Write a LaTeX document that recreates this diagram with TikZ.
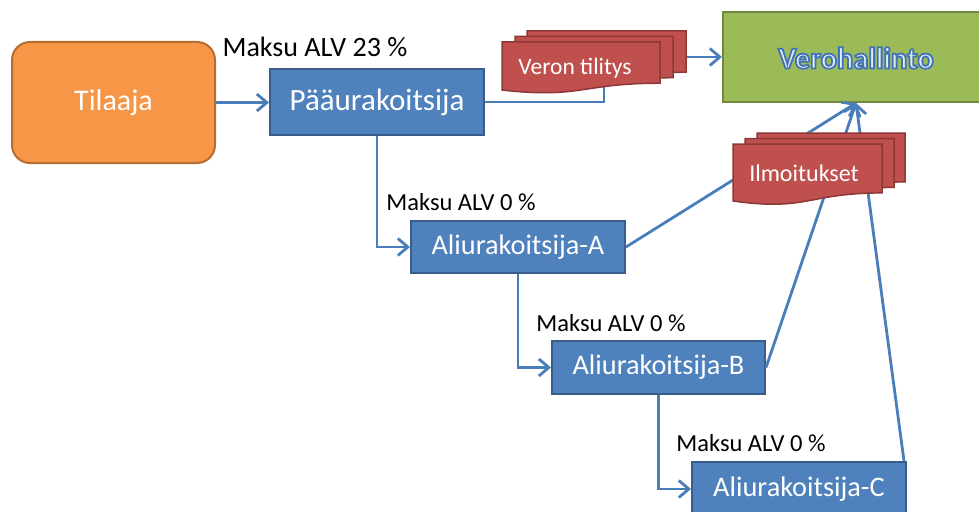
\documentclass[tikz,border=0pt]{standalone}
\usepackage{fontspec}
\setmainfont{Carlito}
\usetikzlibrary{arrows.meta,calc}
\definecolor{boxblue}{HTML}{4F81BD}
\definecolor{boxblueline}{HTML}{385D8A}
\definecolor{boxorange}{HTML}{F79646}
\definecolor{boxorangeline}{HTML}{B66D31}
\definecolor{boxgreen}{HTML}{9BBB59}
\definecolor{boxgreenline}{HTML}{71893F}
\definecolor{docred}{HTML}{C0504D}
\definecolor{docredline}{HTML}{8C3836}
\definecolor{connblue}{HTML}{4A7EBB}
\definecolor{verotext}{HTML}{E4ECF6}
\newcommand\docpg[4]{%
  \draw[docpage] (#1,#2) -- ({#1+#3},#2) -- ({#1+#3},{#2+0.802*#4})
    .. controls ({#1+0.5*#3},{#2+0.802*#4}) and ({#1+0.5*#3},{#2+1.107*#4}) .. (#1,{#2+0.934*#4}) -- cycle;}
\tikzset{
  bluebox/.style={draw=boxblueline, fill=boxblue, line width=2pt, text=white, font=\fontsize{28.3}{30}\selectfont, inner sep=0pt},
  orangebox/.style={draw=boxorangeline, fill=boxorange, line width=2pt, rounded corners=18pt, text=white, font=\fontsize{30}{32}\selectfont, inner sep=0pt},
  greenbox/.style={draw=boxgreenline, fill=boxgreen, line width=2pt, inner sep=0pt},
  payment/.style={font=\fontsize{24.5}{26}\selectfont, text=black, inner sep=0pt},
  doctext/.style={text=white, inner sep=0pt},
  docpage/.style={draw=docredline, fill=docred, line width=1.5pt},
  conn/.style={draw=connblue, line width=2.8pt, -{Straight Barb[length=10pt,width=17pt,line width=2.8pt]}},
  plainconn/.style={draw=connblue, line width=2.8pt}
}
\begin{document}
\begin{tikzpicture}[x=1pt,y=-1pt]
\useasboundingbox (0,0) rectangle (979,511);
\clip (0,0) rectangle (979,511);
% boxes
\node[orangebox, minimum width=203pt, minimum height=121pt] (T) at (113.5,102.5) {Tilaaja};
\node[bluebox, minimum width=214pt, minimum height=66pt, font=\fontsize{31}{33}\selectfont] (P) at (377,102) {Pääurakoitsija};
\node[bluebox, minimum width=214pt, minimum height=52pt] (A) at (518,247) {Aliurakoitsija-A};
\node[bluebox, minimum width=213pt, minimum height=53pt] (B) at (658.5,367.5) {Aliurakoitsija-B};
\node[bluebox, minimum width=214pt, minimum height=54pt] (C) at (799,489) {Aliurakoitsija-C};
\node[greenbox, minimum width=266pt, minimum height=90pt] (V) at (856,57) {};
% payment labels
\node[payment, font=\fontsize{28}{30}\selectfont] (l0) at (315,47) {Maksu ALV 23 \%};
\node[payment] (l1) at (461,202) {Maksu ALV 0 \%};
\node[payment] (l2) at (611,323) {Maksu ALV 0 \%};
\node[payment] (l3) at (751,443) {Maksu ALV 0 \%};
% connectors
\draw[conn] (T.east) -- (T.east -| P.west);
\draw[conn] (P.south) |- (A.west);
\draw[conn] (A.south) |- (B.west);
\draw[conn] (B.south) |- (C.west);
\draw[conn] (P.east) -- ++(119,0) |- (V.west);
\draw[conn] (A.east) -- (V.south);
\draw[conn] (B.east) -- (V.south);
\coordinate (Ctop) at ($(C.north east)+(-3,0)$);
\draw[conn] (Ctop) -- (V.south);
% document stacks
\docpg{527}{31}{159}{51.4}
\docpg{515}{36.5}{158}{51.4}
\docpg{502}{42}{158}{51.4}
\node[doctext, font=\fontsize{23.5}{25}\selectfont] (vt) at (575,68) {Veron tilitys};
\docpg{757}{133}{148}{61}
\docpg{745}{138.5}{149}{61}
\docpg{733}{144}{149}{61}
\node[doctext, font=\fontsize{24}{26}\selectfont] (il) at (804,173) {Ilmoitukset};
% Verohallinto text
\node[text=verotext, inner sep=0pt, font=\bfseries\fontsize{30.5}{32}\selectfont] (vh) at (856,58) {\special{pdf:literal direct 0.25 0.45 0.72 RG 1.8 w 2 Tr}Verohallinto\special{pdf:literal direct 0 Tr}};
\end{tikzpicture}
\end{document}
